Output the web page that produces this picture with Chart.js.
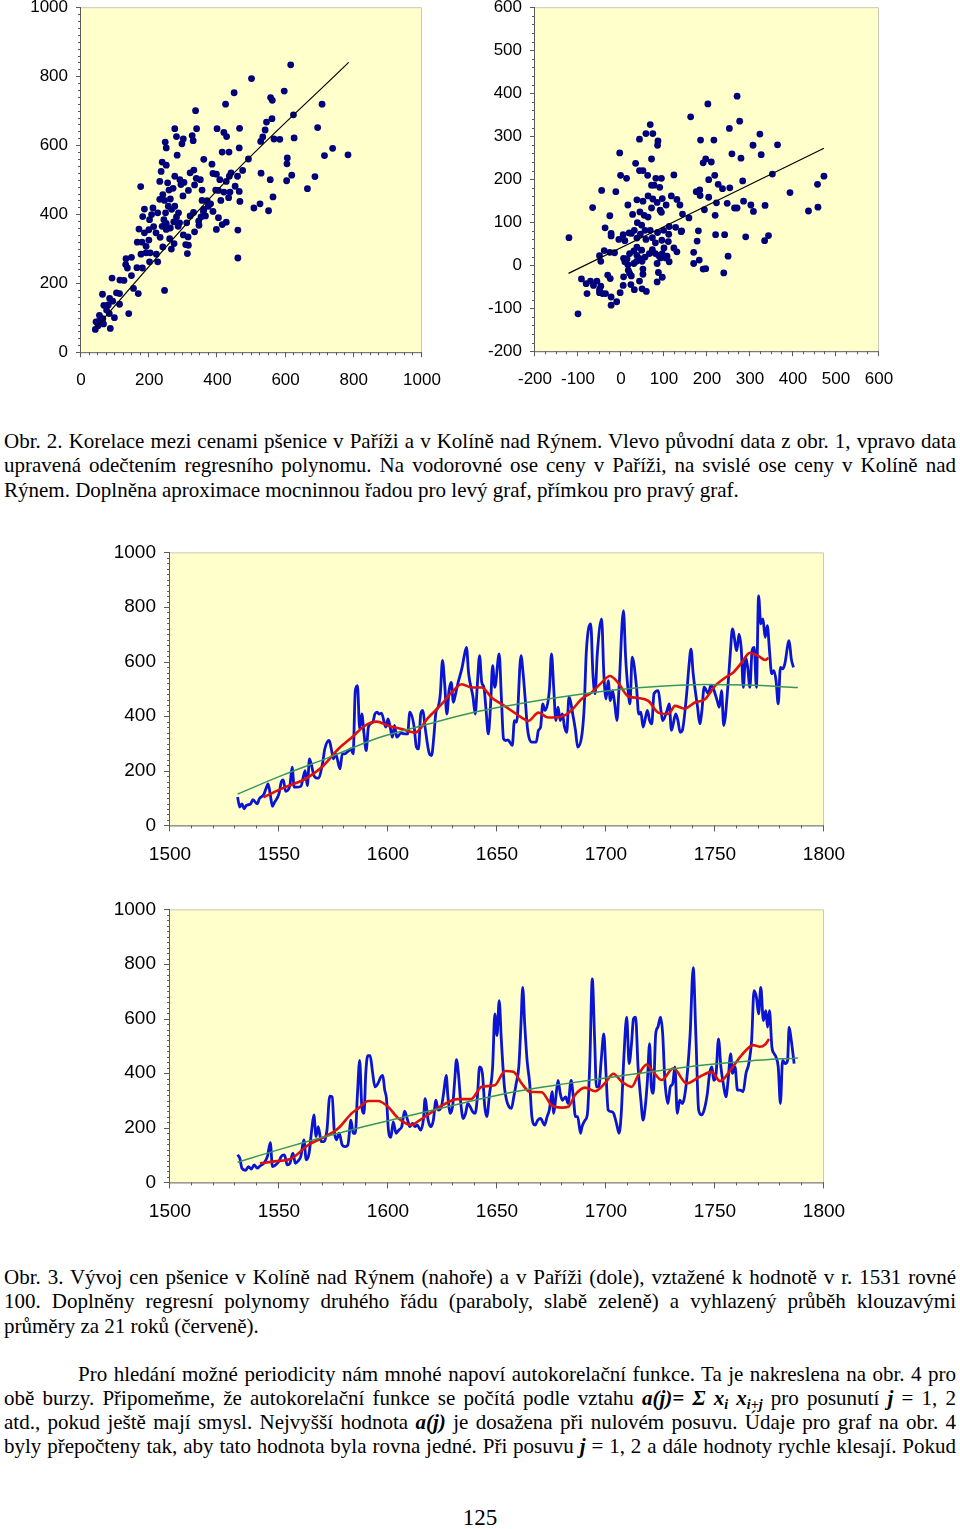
<!DOCTYPE html>
<html>
<head>
<meta charset="utf-8">
<script src="https://cdn.jsdelivr.net/npm/chart.js"></script>
<style>
body { margin: 0; background: #fff; width: 960px; height: 1529px; position: relative; overflow: hidden;
       font-family: "Liberation Serif", "Times New Roman", serif; color: #000; }
canvas { position: absolute; }
.ln { position: absolute; left: 4px; width: 952px; height: 24px; line-height: 24px; font-size: 21px; white-space: nowrap; }
.j { text-align: justify; text-align-last: justify; }
.f { font-weight: bold; font-style: italic; }
.sb { font-size: 14px; position: relative; top: 4px; }
</style>
</head>
<body>

<canvas id="scLeft"></canvas>
<canvas id="scRight"></canvas>
<canvas id="kolin"></canvas>
<canvas id="paris"></canvas>

<div class="ln j" style="top:429px">Obr. 2. Korelace mezi cenami pšenice v Paříži a v Kolíně nad Rýnem. Vlevo původní data z obr. 1, vpravo data</div>
<div class="ln j" style="top:453px">upravená odečtením regresního polynomu. Na vodorovné ose ceny v Paříži, na svislé ose ceny v Kolíně nad</div>
<div class="ln" style="top:478px">Rýnem. Doplněna aproximace mocninnou řadou pro levý graf, přímkou pro pravý graf.</div>

<div class="ln j" style="top:1265px">Obr. 3. Vývoj cen pšenice v Kolíně nad Rýnem (nahoře) a v Paříži (dole), vztažené k hodnotě v r. 1531 rovné</div>
<div class="ln j" style="top:1289px">100. Doplněny regresní polynomy druhého řádu (paraboly, slabě zeleně) a vyhlazený průběh klouzavými</div>
<div class="ln" style="top:1314px">průměry za 21 roků (červeně).</div>

<div class="ln j" style="top:1362px;left:78px;width:878px">Pro hledání možné periodicity nám mnohé napoví autokorelační funkce. Ta je nakreslena na obr. 4 pro</div>
<div class="ln j" style="top:1386px">obě burzy. Připomeňme, že autokorelační funkce se počítá podle vztahu <span class="f">a(j)= Σ x<span class="sb">i</span> x<span class="sb">i+j</span></span> pro posunutí <span class="f">j</span> = 1, 2</div>
<div class="ln j" style="top:1410px">atd., pokud ještě mají smysl. Nejvyšší hodnota <span class="f">a(j)</span> je dosažena při nulovém posuvu. Údaje pro graf na obr. 4</div>
<div class="ln j" style="top:1434px">byly přepočteny tak, aby tato hodnota byla rovna jedné. Při posuvu <span class="f">j</span> = 1, 2 a dále hodnoty rychle klesají. Pokud</div>

<div class="ln" style="top:1506px;text-align:center;font-size:23px;left:0;width:960px">125</div>

<script>
// tick labels
const leftTicks = [0, 200, 400, 600, 800, 1000];
const rightTicks = [-200, -100, 0, 100, 200, 300, 400, 500, 600];
const yearTicks = [1500, 1550, 1600, 1650, 1700, 1750, 1800];
const priceTicks = [0, 200, 400, 600, 800, 1000];

// Obr. 2 vlevo: [cena Paříž, cena Kolín]
const leftPoints = [[615,833],[500,793],[449,752],[424,719],[336,700],[596,757],[556,738],[561,730],[707,719],[560,677],
  [544,667],[623,688],[465,649],[399,648],[339,648],[275,648],[694,651],[540,644],[280,625],[300,618],[326,628],[329,613],
  [296,604],[247,609],[250,592],[419,637],[427,625],[533,624],[527,611],[566,618],[583,617],[625,621],[464,592],[414,580],
  [434,580],[738,591],[714,570],[783,572],[605,563],[604,546],[603,497],[618,513],[686,509],[664,474],[528,519],[555,500],
  [563,450],[550,410],[525,430],[507,418],[491,560],[474,527],[459,510],[452,481],[464,466],[466,437],[435,510],[426,495],
  [433,448],[437,464],[426,377],[460,354],[460,273],[360,559],[384,545],[387,518],[397,516],[407,500],[403,469],[419,464],
  [403,390],[397,356],[414,370],[370,439],[373,423],[360,414],[387,408],[359,408],[352,392],[346,368],[333,349],[314,334],
  [307,312],[315,310],[312,286],[265,299],[273,315],[240,305],[225,262],[245,179],[331,528],[338,504],[333,485],[315,469],
  [299,453],[302,492],[293,486],[282,571],[275,510],[250,542],[254,491],[238,551],[235,524],[231,495],[240,457],[231,443],
  [262,444],[256,423],[266,414],[275,423],[286,404],[280,392],[289,375],[272,378],[248,404],[243,384],[225,404],[211,418],
  [207,399],[181,393],[186,415],[175,480],[201,384],[213,364],[220,346],[232,333],[250,356],[260,329],[250,373],[238,365],
  [199,355],[186,346],[170,357],[165,319],[179,319],[199,325],[191,307],[176,284],[191,288],[203,288],[201,262],[221,284],
  [180,244],[164,245],[148,275],[132,271],[131,254],[136,244],[148,222],[154,185],[168,170],[126,208],[114,209],[91,215],
  [104,172],[113,170],[113,139],[140,112],[84,156],[93,148],[80,137],[67,136],[75,122],[83,112],[98,100],[63,168],[54,107],
  [64,97],[52,89],[44,88],[58,85],[50,77],[42,66],[86,69],[66,82],[320,395],[345,380],[355,440],[380,430],[300,340],
  [285,365],[262,360],[310,375],[330,405],[395,470],[410,440],[440,520],[350,500],[270,475],[290,500],[320,520],[355,470],
  [365,395],[245,440],[258,470]];
const leftFit = [[44,72],[400,470],[785,840]];

// Obr. 2 vpravo: odchylky od regresního polynomu
const rightPoints = [[270,393],[202,375],[162,345],[276,335],[252,318],[323,305],[68,327],[58,306],[74,306],[43,293],
  [86,289],[85,279],[185,291],[216,291],[307,279],[364,280],[326,257],[258,259],[279,249],[-3,261],[71,247],[197,247],
  [191,238],[210,240],[34,237],[43,220],[51,220],[-1,209],[13,202],[62,209],[71,186],[77,186],[81,202],[94,202],[90,181],
  [123,210],[218,209],[204,199],[226,188],[236,178],[253,180],[283,196],[352,212],[472,207],[457,188],[393,169],[-45,174],
  [-12,171],[-66,134],[-26,115],[-37,87],[-23,74],[-23,68],[-5,60],[5,71],[9,57],[19,75],[16,140],[37,152],[51,149],
  [27,118],[44,124],[54,116],[63,112],[71,133],[74,154],[63,161],[84,146],[96,155],[91,128],[94,123],[105,140],[117,161],
  [130,153],[137,140],[143,119],[158,110],[141,80],[127,88],[112,90],[111,72],[99,81],[85,76],[68,81],[56,81],[48,93],
  [38,99],[31,81],[24,74],[37,63],[45,72],[58,60],[73,64],[80,52],[95,58],[110,55],[100,40],[96,27],[107,21],[112,8],
  [88,22],[80,27],[73,36],[66,27],[56,19],[48,35],[37,42],[30,33],[20,27],[14,15],[9,8],[16,1],[6,16],[37,23],[44,15],
  [30,4],[36,9],[49,9],[17,-12],[20,-19],[24,-25],[6,-27],[5,-47],[-2,-64],[23,-45],[31,-57],[43,-37],[49,-55],[59,-61],
  [51,-9],[51,-21],[84,-39],[87,-17],[96,-28],[84,4],[92,17],[104,17],[123,40],[130,31],[140,78],[169,30],[169,4],[182,12],
  [191,-9],[197,-8],[177,56],[180,80],[175,171],[183,175],[184,162],[194,129],[204,158],[220,71],[219,116],[222,145],
  [241,71],[247,144],[249,21],[239,-18],[264,133],[270,133],[285,149],[290,66],[302,140],[308,125],[335,139],[334,57],
  [343,69],[436,126],[458,135],[-92,-32],[-81,-43],[-71,-37],[-56,-37],[-79,-66],[-64,-47],[-50,-57],[-47,-49],[-50,-64],
  [-43,-66],[-36,-66],[-31,-23],[-25,-31],[-23,-74],[-10,-85],[-23,-93],[-100,-113],[-121,64],[-50,22],[-47,9],[-39,34],
  [-26,30],[-15,29]];
const rightFit = [[-122,-19],[472,272]];

// Obr. 3 nahoře: Kolín nad Rýnem [rok, cena]
const kolinPrice = [[1531,104],[1532,67],[1533,79],[1534,61],[1535,73],[1537,79],[1538,94],[1540,79],[1541,98],[1543,113],
  [1544,134],[1545,152],[1546,113],[1547,70],[1548,85],[1550,116],[1551,158],[1552,167],[1553,125],[1555,146],[1556,213],
  [1557,140],[1558,140],[1560,143],[1562,201],[1563,146],[1564,244],[1566,183],[1567,174],[1568,173],[1570,228],[1571,280],
  [1573,311],[1574,280],[1575,244],[1576,262],[1578,207],[1579,262],[1580,262],[1582,274],[1583,280],[1584,262],[1585,494],
  [1586,512],[1587,354],[1588,408],[1589,335],[1590,274],[1591,360],[1593,378],[1594,408],[1595,415],[1596,408],[1597,411],
  [1599,360],[1600,390],[1601,360],[1602,323],[1603,366],[1604,323],[1606,338],[1608,335],[1609,335],[1610,415],[1612,360],
  [1613,287],[1614,280],[1615,408],[1616,421],[1617,360],[1619,262],[1620,256],[1621,323],[1622,415],[1623,433],[1624,482],
  [1625,604],[1626,518],[1627,408],[1628,494],[1629,524],[1630,451],[1631,482],[1632,518],[1634,579],[1635,622],[1636,652],
  [1637,555],[1639,470],[1640,408],[1641,518],[1642,622],[1643,524],[1644,506],[1645,421],[1646,335],[1647,433],[1648,585],
  [1649,506],[1651,628],[1652,470],[1653,317],[1654,311],[1655,313],[1657,293],[1658,384],[1659,378],[1661,622],[1662,555],
  [1663,457],[1664,354],[1666,305],[1668,305],[1669,348],[1670,360],[1671,445],[1672,421],[1674,494],[1675,628],[1676,506],
  [1677,384],[1678,433],[1679,384],[1680,408],[1681,360],[1682,341],[1683,470],[1685,396],[1686,348],[1687,287],[1689,335],
  [1690,433],[1691,640],[1693,738],[1694,555],[1695,482],[1696,628],[1698,756],[1699,555],[1700,463],[1701,530],[1702,457],
  [1703,494],[1704,445],[1705,384],[1706,506],[1708,787],[1709,616],[1710,506],[1711,445],[1712,616],[1714,506],[1715,408],
  [1716,415],[1717,360],[1719,421],[1720,384],[1721,372],[1722,482],[1724,494],[1725,433],[1726,384],[1728,421],[1729,445],
  [1730,348],[1732,408],[1733,384],[1734,341],[1735,348],[1737,482],[1738,579],[1739,646],[1740,555],[1742,433],[1743,372],
  [1744,421],[1745,506],[1747,482],[1748,512],[1749,506],[1751,457],[1752,433],[1753,494],[1754,366],[1756,518],[1757,628],
  [1758,720],[1760,640],[1761,701],[1762,652],[1763,506],[1764,616],[1765,579],[1766,506],[1767,640],[1768,652],[1769,506],
  [1770,841],[1771,738],[1772,756],[1773,689],[1774,732],[1775,640],[1776,555],[1777,567],[1778,530],[1779,445],[1780,579],
  [1781,573],[1782,591],[1784,677],[1785,610],[1786,579]];
const kolinAverage = [[1542.8,103],[1552.8,140],[1562,170],[1569.6,213],[1577.2,280],[1583.4,322],[1589.4,365],[1594.8,380],
  [1600.1,365],[1606.3,353],[1612.4,340],[1618.5,395],[1624.6,444],[1629.2,487],[1633.8,517],[1638.4,505],[1643,505],
  [1647.6,468],[1652.2,444],[1656.7,420],[1661.3,395],[1664.4,383],[1669,413],[1673.5,395],[1679.7,399],[1684,420],
  [1688.8,463],[1693.4,487],[1698,523],[1701.8,547],[1705.5,523],[1710,474],[1714.7,467],[1719.4,456],[1724,413],
  [1728.6,408],[1731.7,438],[1736,428],[1740.8,450],[1745.4,462],[1750,511],[1754.6,541],[1758.4,560],[1762.2,596],
  [1766,632],[1770,620],[1773,606],[1774.5,614]];
const kolinTrend = [[1531,115],[1552,185],[1573,249],[1596,322],[1617,368],[1640,415],[1665,452],[1690,482],[1704,496],
  [1725,510],[1745,516],[1765,514],[1788,505]];

// Obr. 3 dole: Paříž [rok, cena]
const parisPrice = [[1531,101],[1532,89],[1533,52],[1534.7,44],[1536,58],[1537.3,49],[1538.6,64],[1540,52],[1541.4,61],
  [1543,70],[1544.7,95],[1546,146],[1547,58],[1548.4,64],[1550,77],[1551,95],[1552.5,101],[1553.8,64],[1555,70],[1556.4,107],
  [1557.5,70],[1558.6,77],[1560,95],[1561.4,156],[1562.5,83],[1563.8,107],[1565,192],[1566,247],[1567,168],[1568,204],
  [1569.4,149],[1570.7,149],[1572,192],[1573.3,316],[1574.4,313],[1575.3,192],[1576.3,156],[1577.6,180],[1579,137],
  [1580.3,131],[1581.6,137],[1583,228],[1584,180],[1585,180],[1586,326],[1587,447],[1588,277],[1589,253],[1589.8,399],
  [1590.7,464],[1591.8,464],[1592.8,411],[1594,350],[1595.4,362],[1596.7,386],[1597.6,392],[1598.5,338],[1599.3,307],
  [1600.2,192],[1601.3,165],[1602.4,222],[1603.7,180],[1605,192],[1606.3,204],[1607.6,261],[1609,228],[1610,204],
  [1611.3,216],[1612.4,204],[1613.4,210],[1615,192],[1616.3,234],[1617,307],[1618.4,228],[1619.7,204],[1620.8,228],
  [1622,301],[1623,265],[1624.5,277],[1625.6,332],[1626.7,392],[1627.5,313],[1628.6,253],[1629.7,283],[1630.6,374],
  [1631.4,450],[1632.3,399],[1633.4,289],[1634.5,234],[1635.6,253],[1636.6,289],[1637.7,277],[1638.8,259],[1640,253],
  [1641,313],[1642,423],[1643.3,399],[1644.4,277],[1645.3,241],[1646.6,326],[1648,423],[1649,617],[1650,538],[1651,666],
  [1652,520],[1653.4,350],[1654.4,301],[1655.5,277],[1656.6,271],[1657.7,313],[1658.8,362],[1660,423],[1661,581],
  [1661.8,714],[1662.7,581],[1663.8,447],[1665,362],[1666,241],[1667.5,210],[1668.7,228],[1670,234],[1671.8,210],[1673,241],
  [1674,265],[1675.3,332],[1676,253],[1677,313],[1678,374],[1679,326],[1680,301],[1681.5,313],[1682.6,289],[1684,374],
  [1685,313],[1686,241],[1687,241],[1688.3,180],[1689,204],[1690.4,228],[1691.5,253],[1692.6,447],[1693.7,745],[1694.8,520],
  [1695.6,350],[1696.7,350],[1697.8,447],[1699,544],[1700,399],[1701,265],[1702.4,259],[1703.5,253],[1704.8,216],[1706,180],
  [1707,253],[1708.2,459],[1709.5,605],[1710.6,435],[1711.7,508],[1712.6,599],[1713.6,605],[1714.7,423],[1716,301],
  [1717,228],[1718,277],[1719,374],[1720,508],[1720.8,350],[1721.7,326],[1722.8,544],[1723.8,569],[1725,605],[1726,544],
  [1727,374],[1728.4,289],[1729.5,350],[1730.6,362],[1731.6,423],[1732.7,253],[1733.8,301],[1735,289],[1736,313],
  [1737.3,399],[1738.6,544],[1740,787],[1741.2,544],[1742.5,265],[1743.8,247],[1745,265],[1746.5,326],[1747.5,399],
  [1748.6,423],[1749.4,374],[1750.5,399],[1751.6,526],[1752.7,423],[1753.8,362],[1755,313],[1756,374],[1757.2,471],
  [1758,399],[1759.2,423],[1760.3,338],[1761.6,338],[1762.9,332],[1764.2,399],[1765.5,435],[1766.8,520],[1767.9,702],
  [1769,678],[1770,617],[1771,714],[1772.2,593],[1773.3,629],[1774.1,569],[1775,629],[1776.1,496],[1777.2,471],[1778,459],
  [1779,423],[1780,289],[1781,447],[1782.2,435],[1783.3,447],[1784,569],[1785,520],[1786.3,435]];
const parisAverage = [[1541.3,70],[1548,77],[1555.8,88],[1563.4,137],[1571,167],[1577.2,198],[1583.3,253],[1586.4,271],
  [1591,298],[1595.5,298],[1600,277],[1604.7,235],[1610.9,210],[1614,225],[1618.5,249],[1624.6,281],[1632,305],[1638,305],
  [1643,350],[1649,356],[1653.7,408],[1657.5,405],[1661.3,363],[1665,332],[1670.5,330],[1675,283],[1679.7,274],[1682.7,277],
  [1685.8,320],[1690.4,347],[1695,334],[1699.5,363],[1703.4,398],[1707.2,369],[1711.8,350],[1714.8,393],[1718.7,432],
  [1721.7,405],[1725.5,375],[1730.9,418],[1737,363],[1743,387],[1748.5,405],[1752.3,371],[1757.7,418],[1762.2,466],
  [1767.6,503],[1770.6,497],[1773,505],[1774.8,525]];
const parisTrend = [[1531,74],[1550,120],[1571,167],[1592,210],[1612,249],[1635,292],[1658,332],[1680,360],[1704,387],
  [1725,410],[1745,430],[1766,445],[1788,456]];

const AXIS_COLOR = '#5a5a5a';
const PLOT_BG = '#FFFFCC';

function isMajor(v, step) {
  const r = v / step;
  return Math.abs(r - Math.round(r)) < 1e-6;
}

// pozadí grafu, osy a drobné značky
const framePlugin = {
  id: 'frame',
  beforeDatasetsDraw(chart, args, o) {
    const { ctx, chartArea: a, scales: { x, y } } = chart;
    ctx.save();
    ctx.fillStyle = PLOT_BG;
    ctx.fillRect(a.left, a.top, a.right - a.left, a.bottom - a.top);
    ctx.strokeStyle = '#c9c9b8';
    ctx.lineWidth = 1;
    ctx.beginPath();
    ctx.moveTo(a.left, a.top + 0.5);
    ctx.lineTo(a.right - 0.5, a.top + 0.5);
    ctx.lineTo(a.right - 0.5, a.bottom);
    ctx.stroke();

    ctx.strokeStyle = AXIS_COLOR;
    ctx.beginPath();
    ctx.moveTo(a.left - 0.5, a.top);
    ctx.lineTo(a.left - 0.5, a.bottom + 0.5);
    ctx.lineTo(a.right, a.bottom + 0.5);
    for (let v = x.min; v <= x.max + 1e-9; v += o.xMinor) {
      const px = Math.round(x.getPixelForValue(v)) - 0.5;
      const len = isMajor(v, o.xMajor) ? o.majorLen : o.minorLen;
      ctx.moveTo(px, a.bottom);
      ctx.lineTo(px, a.bottom + len);
    }
    for (let v = y.min; v <= y.max + 1e-9; v += o.yMinor) {
      const py = Math.round(y.getPixelForValue(v)) + 0.5;
      const len = isMajor(v, o.yMajor) ? o.majorLen : o.minorLen;
      ctx.moveTo(a.left, py);
      ctx.lineTo(a.left - len, py);
    }
    ctx.stroke();
    ctx.restore();
  }
};

function axis(min, max, labels, fontSize, pad, size, horizontal) {
  return {
    type: 'linear', min, max,
    afterBuildTicks: s => { s.ticks = labels.map(v => ({ value: v })); },
    afterFit: s => { if (horizontal) s.height = size; else s.width = size; },
    grid: { display: false, drawTicks: false },
    border: { display: false },
    ticks: {
      autoSkip: false, maxRotation: 0, padding: pad, color: '#000',
      callback: v => String(v),
      font: { family: '"Liberation Sans", Arial, sans-serif', size: fontSize }
    }
  };
}

function place(id, area, yW, xH) {
  const c = document.getElementById(id);
  c.width = yW + (area.r - area.l) + 40;
  c.height = 20 + (area.b - area.t) + xH;
  return c;
}

// posune plátno tak, aby plocha grafu ležela přesně na zadaném místě
function fitArea(chart, c, area) {
  let a = chart.chartArea;
  const dw = (area.r - area.l) - (a.right - a.left);
  const dh = (area.b - area.t) - (a.bottom - a.top);
  if (Math.abs(dw) > 0.01 || Math.abs(dh) > 0.01) {
    chart.resize(c.width + dw, c.height + dh);
    a = chart.chartArea;
  }
  c.style.left = (area.l - a.left) + 'px';
  c.style.top = (area.t - a.top) + 'px';
}

const toXY = arr => arr.map(p => ({ x: p[0], y: p[1] }));

function scatterChart(id, area, xr, yr, xLabels, yLabels, pts, fit, frame) {
  const c = place(id, area, 90, 50);
  const ch = new Chart(c, {
    type: 'scatter',
    data: {
      datasets: [
        { data: toXY(fit), showLine: true, pointRadius: 0, borderColor: '#000', borderWidth: 1.2,
          cubicInterpolationMode: 'monotone', order: 0 },
        { data: toXY(pts), pointRadius: 3.4, pointBackgroundColor: '#00007a', pointBorderWidth: 0,
          borderColor: '#00007a', order: 1 }
      ]
    },
    options: {
      responsive: false, maintainAspectRatio: false, animation: false, devicePixelRatio: 1,
      layout: { padding: { top: 20, right: 40, left: 0, bottom: 0 } },
      plugins: { legend: { display: false }, tooltip: { enabled: false }, frame },
      scales: {
        x: axis(xr[0], xr[1], xLabels, 17, 18, 50, true),
        y: axis(yr[0], yr[1], yLabels, 17, 13, 90, false)
      }
    },
    plugins: [framePlugin]
  });
  fitArea(ch, c, area);
}

function timeChart(id, area, price, average, trend) {
  const c = place(id, area, 100, 52);
  const ch = new Chart(c, {
    type: 'scatter',
    data: {
      datasets: [
        { data: toXY(trend), showLine: true, pointRadius: 0, borderColor: '#3a9460', borderWidth: 1.5,
          cubicInterpolationMode: 'monotone', order: 0 },
        { data: toXY(average), showLine: true, pointRadius: 0, borderColor: '#dd1010', borderWidth: 2.6,
          cubicInterpolationMode: 'monotone', order: 1 },
        { data: toXY(price), showLine: true, pointRadius: 0, borderColor: '#0a14d2', borderWidth: 2.8,
          cubicInterpolationMode: 'monotone', order: 2 }
      ]
    },
    options: {
      responsive: false, maintainAspectRatio: false, animation: false, devicePixelRatio: 1,
      layout: { padding: { top: 20, right: 40, left: 0, bottom: 0 } },
      plugins: { legend: { display: false }, tooltip: { enabled: false },
        frame: { xMajor: 50, xMinor: 10, yMajor: 200, yMinor: 20, majorLen: 6, minorLen: 3 } },
      scales: {
        x: axis(1500, 1800, yearTicks, 19, 18, 52, true),
        y: axis(0, 1000, priceTicks, 19, 14, 100, false)
      }
    },
    plugins: [framePlugin]
  });
  fitArea(ch, c, area);
}

scatterChart('scLeft', { l: 81, t: 7, r: 422, b: 352 }, [0, 1000], [0, 1000], leftTicks, leftTicks,
  leftPoints, leftFit, { xMajor: 200, xMinor: 25, yMajor: 200, yMinor: 20, majorLen: 5, minorLen: 3 });
scatterChart('scRight', { l: 535, t: 7, r: 879, b: 351 }, [-200, 600], [-200, 600], rightTicks, rightTicks,
  rightPoints, rightFit, { xMajor: 100, xMinor: 25, yMajor: 100, yMinor: 20, majorLen: 5, minorLen: 3 });
timeChart('kolin', { l: 170, t: 552, r: 824, b: 825 }, kolinPrice, kolinAverage, kolinTrend);
timeChart('paris', { l: 170, t: 909, r: 824, b: 1182 }, parisPrice, parisAverage, parisTrend);
</script>
</body>
</html>
